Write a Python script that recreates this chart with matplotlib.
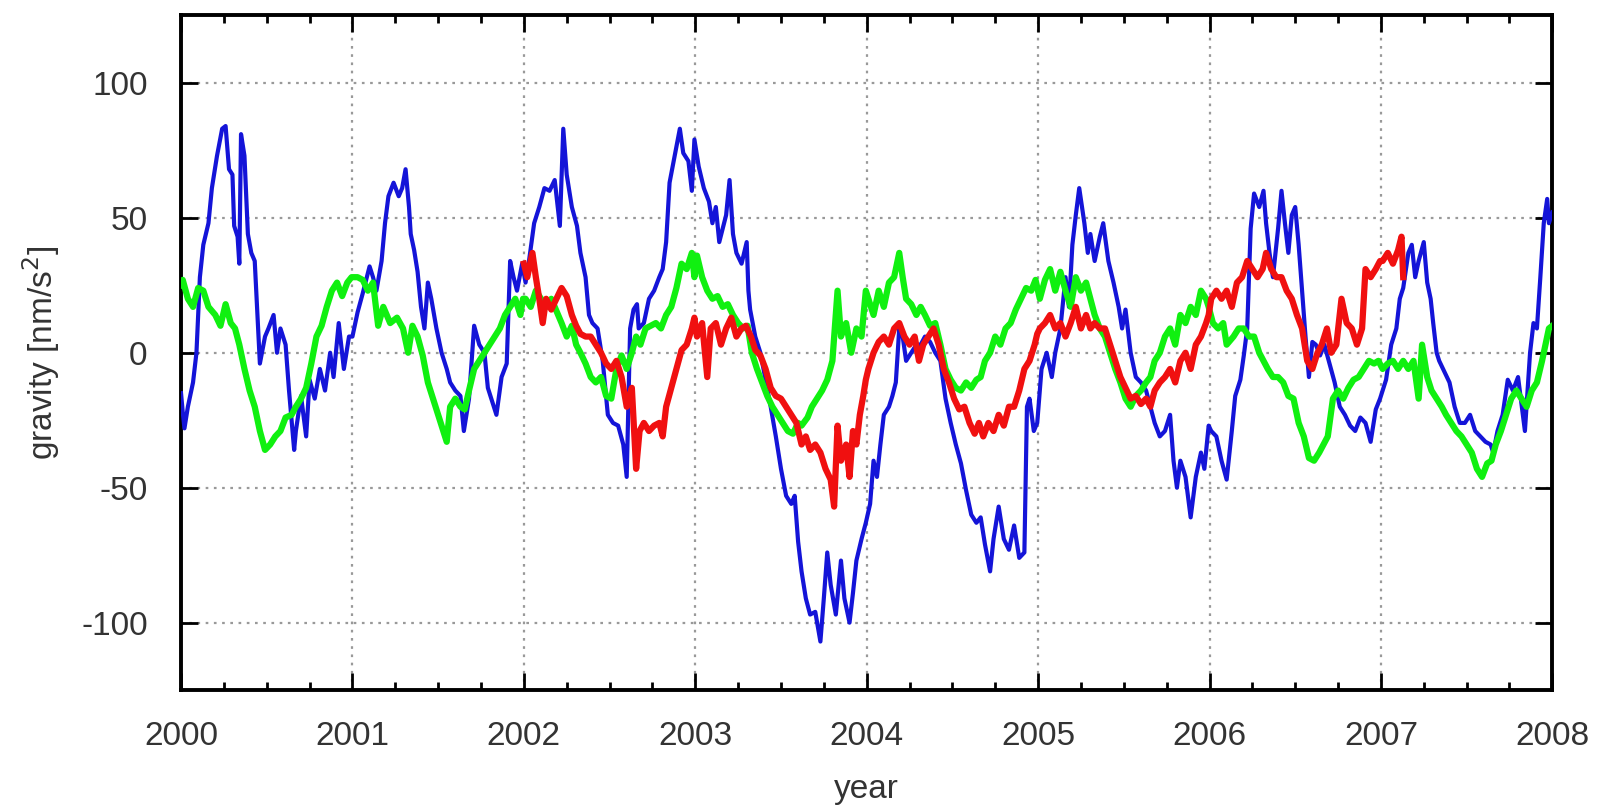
import matplotlib.pyplot as plt
from matplotlib.ticker import MultipleLocator

plt.rcParams['font.family'] = ['Liberation Sans', 'DejaVu Sans']
plt.rcParams['axes.unicode_minus'] = False

# Blue series (2000 - 2008), values in nm/s^2
blue_t = [2000.00, 2000.01, 2000.02, 2000.04, 2000.07, 2000.09, 2000.11, 2000.13, 2000.16, 2000.18,
          2000.21, 2000.24, 2000.26, 2000.28, 2000.30, 2000.31, 2000.33, 2000.34, 2000.35, 2000.37,
          2000.39, 2000.41, 2000.43, 2000.45, 2000.46, 2000.49, 2000.51, 2000.54, 2000.56, 2000.58,
          2000.61, 2000.63, 2000.66, 2000.67, 2000.70, 2000.73, 2000.75, 2000.78, 2000.81, 2000.84,
          2000.87, 2000.89, 2000.92, 2000.95, 2000.98,
          2001.00, 2001.03, 2001.06, 2001.10, 2001.12, 2001.14, 2001.17, 2001.19, 2001.21, 2001.24,
          2001.27, 2001.29, 2001.31, 2001.33, 2001.34, 2001.36, 2001.38, 2001.40, 2001.42, 2001.44,
          2001.46, 2001.49, 2001.52, 2001.55, 2001.57, 2001.60, 2001.63, 2001.65, 2001.68, 2001.71,
          2001.74, 2001.77, 2001.79, 2001.82, 2001.84, 2001.87, 2001.90, 2001.92, 2001.94, 2001.96,
          2001.99,
          2002.01, 2002.03, 2002.06, 2002.09, 2002.12, 2002.15, 2002.18, 2002.21, 2002.23, 2002.25,
          2002.28, 2002.31, 2002.33, 2002.36, 2002.38, 2002.40, 2002.43, 2002.46, 2002.49, 2002.52,
          2002.55, 2002.58, 2002.60, 2002.62, 2002.64, 2002.66, 2002.67, 2002.70, 2002.73, 2002.76,
          2002.79, 2002.81, 2002.83, 2002.85, 2002.88, 2002.91, 2002.93, 2002.96, 2002.98, 2002.995,
          2003.02, 2003.05, 2003.08, 2003.10, 2003.12, 2003.14, 2003.16, 2003.18, 2003.20, 2003.22,
          2003.24, 2003.27, 2003.30, 2003.31, 2003.32, 2003.35, 2003.38, 2003.41, 2003.44, 2003.47,
          2003.50, 2003.53, 2003.56, 2003.58, 2003.60, 2003.62, 2003.645, 2003.67, 2003.70, 2003.73,
          2003.75, 2003.77, 2003.79, 2003.82, 2003.85, 2003.87, 2003.90, 2003.92, 2003.94, 2003.97,
          2003.995,
          2004.02, 2004.04, 2004.06, 2004.08, 2004.10, 2004.13, 2004.15, 2004.17, 2004.19, 2004.21,
          2004.23, 2004.26, 2004.29, 2004.315, 2004.34, 2004.37, 2004.40, 2004.43, 2004.46, 2004.49,
          2004.52, 2004.55, 2004.58, 2004.61, 2004.64, 2004.665, 2004.69, 2004.72, 2004.74, 2004.77,
          2004.80, 2004.83, 2004.86, 2004.89, 2004.92, 2004.935, 2004.95, 2004.975, 2004.995,
          2005.02, 2005.05, 2005.08, 2005.10, 2005.13, 2005.16, 2005.18, 2005.20, 2005.22, 2005.24,
          2005.27, 2005.29, 2005.305, 2005.33, 2005.36, 2005.38, 2005.41, 2005.44, 2005.47, 2005.49,
          2005.51, 2005.54, 2005.57, 2005.60, 2005.63, 2005.655, 2005.68, 2005.71, 2005.74, 2005.77,
          2005.79, 2005.81, 2005.83, 2005.86, 2005.89, 2005.92, 2005.95, 2005.97, 2005.995,
          2006.01, 2006.04, 2006.07, 2006.10, 2006.13, 2006.15, 2006.18, 2006.20, 2006.22, 2006.24,
          2006.26, 2006.29, 2006.315, 2006.33, 2006.35, 2006.37, 2006.40, 2006.42, 2006.44, 2006.46,
          2006.48, 2006.50, 2006.52, 2006.54, 2006.56, 2006.58, 2006.60, 2006.62, 2006.645, 2006.67,
          2006.70, 2006.73, 2006.76, 2006.79, 2006.82, 2006.85, 2006.88, 2006.91, 2006.94, 2006.97,
          2006.995,
          2007.03, 2007.06, 2007.09, 2007.11, 2007.13, 2007.16, 2007.18, 2007.20, 2007.22, 2007.25,
          2007.27, 2007.29, 2007.305, 2007.325, 2007.34, 2007.37, 2007.40, 2007.43, 2007.46, 2007.49,
          2007.52, 2007.55, 2007.58, 2007.61, 2007.64, 2007.655, 2007.68, 2007.71, 2007.74, 2007.77,
          2007.80, 2007.84, 2007.87, 2007.89, 2007.91, 2007.93, 2007.95, 2007.97, 2007.98, 2008.00]
blue_v = [-15, -22, -28, -20, -11, 0, 28, 40, 48, 61,
          73, 83, 84, 68, 66, 47, 43, 33, 81, 73,
          44, 37, 34, 9, -4, 6, 9, 14, 0, 9,
          3, -14, -36, -29, -16, -31, -10, -17, -6, -14,
          0, -9, 11, -6, 6,
          6, 15, 22, 32, 28, 23, 34, 48, 58, 63,
          58, 61, 68, 54, 44, 38, 30, 17, 9, 26,
          20, 9, 0, -6, -11, -14, -16, -29, -17, 10,
          3, 0, -13, -19, -23, -9, -4, 34, 28, 23,
          33,
          26, 34, 48, 54, 61, 60, 64, 47, 83, 66,
          54, 47, 37, 28, 14, 11, 9, -3, -23, -26,
          -27, -34, -46, 9, 16, 18, 9, 11, 20, 23,
          28, 31, 41, 63, 73, 83, 74, 71, 60, 79,
          69, 61, 56, 48, 54, 41, 46, 51, 64, 44,
          37, 33, 41, 23, 16, 6, 0, -10, -20, -31,
          -43, -53, -56, -53, -70, -81, -91, -97, -96, -107,
          -91, -74, -86, -97, -77, -91, -100, -89, -77, -69,
          -63,
          -56, -40, -46, -34, -23, -20, -16, -11, 9, 6,
          -3, 0, 3, 3, 6, 4, 0, -3, -17, -26,
          -34, -41, -51, -60, -63, -61, -71, -81, -69, -57,
          -69, -73, -64, -76, -74, -20, -17, -29, -26,
          -6, 0, -9, 0, 9, 28, 17, 40, 51, 61,
          48, 37, 44, 34, 43, 48, 34, 26, 17, 9,
          16, 0, -9, -11, -14, -20, -26, -31, -29, -23,
          -40, -50, -40, -46, -61, -46, -37, -43, -27,
          -29, -31, -40, -47, -29, -16, -10, -1, 9, 46,
          59, 54, 60, 48, 37, 28, 46, 60, 48, 37,
          51, 54, 40, 23, 6, -9, 4, 3, -1, 3,
          -4, -11, -20, -23, -27, -29, -24, -26, -33, -21,
          -17,
          -10, 3, 9, 20, 24, 37, 40, 28, 34, 41,
          26, 20, 11, 0, -3, -7, -11, -20, -26, -26,
          -23, -29, -31, -33, -34, -37, -29, -23, -10, -14,
          -9, -29, 0, 11, 9, 28, 48, 57, 48, 52]

# Green series (2000 - 2008)
green_t = [2000.00, 2000.01, 2000.04, 2000.07, 2000.10, 2000.13, 2000.16, 2000.20, 2000.23, 2000.26,
           2000.29, 2000.315, 2000.34, 2000.37, 2000.40, 2000.43, 2000.46, 2000.49, 2000.52, 2000.55,
           2000.58, 2000.61, 2000.645, 2000.67, 2000.70, 2000.73, 2000.76, 2000.79, 2000.82, 2000.85,
           2000.88, 2000.91, 2000.94, 2000.97, 2000.995,
           2001.03, 2001.06, 2001.09, 2001.12, 2001.15, 2001.18, 2001.22, 2001.26, 2001.295, 2001.325,
           2001.35, 2001.38, 2001.41, 2001.44, 2001.47, 2001.50, 2001.53, 2001.55, 2001.57, 2001.60,
           2001.63, 2001.655, 2001.68, 2001.71, 2001.74, 2001.77, 2001.80, 2001.83, 2001.86, 2001.89,
           2001.92, 2001.95, 2001.98, 2001.995,
           2002.01, 2002.04, 2002.07, 2002.10, 2002.13, 2002.16, 2002.22, 2002.25, 2002.28, 2002.305,
           2002.33, 2002.36, 2002.39, 2002.42, 2002.45, 2002.48, 2002.51, 2002.54, 2002.57, 2002.60,
           2002.63, 2002.655, 2002.68, 2002.71, 2002.74, 2002.77, 2002.80, 2002.83, 2002.86, 2002.89,
           2002.92, 2002.95, 2002.98, 2002.995,
           2003.01, 2003.04, 2003.07, 2003.10, 2003.13, 2003.16, 2003.19, 2003.22, 2003.25, 2003.28,
           2003.305, 2003.33, 2003.36, 2003.39, 2003.42, 2003.45, 2003.48, 2003.51, 2003.54, 2003.57,
           2003.60, 2003.62, 2003.655, 2003.68, 2003.71, 2003.74, 2003.77, 2003.80, 2003.83, 2003.85,
           2003.88, 2003.91, 2003.94, 2003.97, 2003.995,
           2004.01, 2004.04, 2004.07, 2004.10, 2004.13, 2004.16, 2004.19, 2004.21, 2004.23, 2004.26,
           2004.29, 2004.315, 2004.34, 2004.37, 2004.40, 2004.43, 2004.46, 2004.49, 2004.52, 2004.55,
           2004.58, 2004.61, 2004.64, 2004.665, 2004.69, 2004.72, 2004.75, 2004.78, 2004.81, 2004.84,
           2004.87, 2004.90, 2004.93, 2004.96, 2004.985,
           2005.01, 2005.04, 2005.07, 2005.10, 2005.13, 2005.16, 2005.19, 2005.22, 2005.25, 2005.28,
           2005.305, 2005.33, 2005.36, 2005.39, 2005.42, 2005.45, 2005.48, 2005.51, 2005.54, 2005.57,
           2005.60, 2005.63, 2005.655, 2005.68, 2005.71, 2005.74, 2005.77, 2005.80, 2005.83, 2005.86,
           2005.89, 2005.92, 2005.95, 2005.98, 2005.995,
           2006.02, 2006.05, 2006.08, 2006.10, 2006.14, 2006.17, 2006.20, 2006.23, 2006.26, 2006.29,
           2006.315, 2006.34, 2006.37, 2006.40, 2006.43, 2006.46, 2006.49, 2006.52, 2006.55, 2006.58,
           2006.61, 2006.64, 2006.665, 2006.69, 2006.72, 2006.75, 2006.78, 2006.81, 2006.84, 2006.87,
           2006.90, 2006.93, 2006.96, 2006.985,
           2007.01, 2007.04, 2007.07, 2007.10, 2007.13, 2007.16, 2007.19, 2007.22, 2007.24, 2007.27,
           2007.295, 2007.325, 2007.355, 2007.38, 2007.41, 2007.44, 2007.47, 2007.50, 2007.53, 2007.56,
           2007.59, 2007.62, 2007.645, 2007.67, 2007.70, 2007.73, 2007.76, 2007.79, 2007.82, 2007.85,
           2007.88, 2007.91, 2007.94, 2007.96, 2007.98, 2008.00]
green_v = [25, 27, 20, 17, 24, 23, 17, 14, 10, 18,
           11, 9, 3, -6, -14, -20, -29, -36, -34, -31,
           -29, -24, -23, -20, -17, -13, -4, 6, 10, 17,
           23, 26, 21, 26, 28,
           28, 27, 23, 26, 10, 17, 11, 13, 9, 0,
           10, 6, -1, -11, -17, -23, -29, -33, -20, -17,
           -20, -21, -14, -6, -3, 0, 3, 6, 9, 14,
           17, 20, 14, 20,
           20, 17, 23, 20, 17, 20, 11, 6, 10, 3,
           0, -4, -9, -11, -9, -16, -17, -6, -1, -6,
           0, 6, 3, 9, 10, 11, 9, 14, 17, 24,
           33, 31, 37, 28,
           36, 28, 23, 20, 21, 17, 18, 14, 11, 9,
           10, 0, -6, -11, -16, -20, -23, -26, -29, -30,
           -26, -27, -24, -20, -17, -14, -10, -3, 23, 6,
           11, 0, 9, 6, 23,
           20, 14, 23, 17, 26, 28, 37, 28, 20, 18,
           14, 17, 14, 10, 11, 3, -6, -10, -13, -14,
           -11, -13, -10, -9, -3, 0, 6, 3, 9, 11,
           16, 20, 24, 23, 27,
           20, 27, 31, 23, 30, 23, 17, 28, 23, 26,
           20, 14, 9, 6, 0, -6, -11, -17, -20, -16,
           -14, -11, -9, -3, 0, 6, 9, 3, 14, 11,
           17, 14, 23, 20, 17,
           11, 9, 11, 3, 6, 9, 9, 6, 6, 0,
           -3, -6, -9, -9, -11, -16, -17, -26, -31, -39,
           -40, -37, -34, -31, -17, -14, -17, -13, -10, -9,
           -6, -3, -4, -3,
           -6, -4, -3, -6, -3, -6, -3, -17, 3, -9,
           -14, -17, -20, -23, -26, -29, -31, -34, -37, -43,
           -46, -41, -40, -34, -29, -23, -17, -14, -17, -20,
           -14, -11, -3, 3, 9, 10]

# Red series (2002 - 2007.1)
red_t = [2002.00, 2002.02, 2002.05, 2002.07, 2002.09, 2002.11, 2002.13, 2002.16, 2002.19, 2002.22,
         2002.25, 2002.28, 2002.305, 2002.33, 2002.36, 2002.39, 2002.42, 2002.45, 2002.48, 2002.51,
         2002.54, 2002.57, 2002.60, 2002.63, 2002.655, 2002.675, 2002.70, 2002.73, 2002.76, 2002.79,
         2002.81, 2002.83, 2002.86, 2002.89, 2002.92, 2002.95, 2002.98, 2002.995,
         2003.01, 2003.04, 2003.07, 2003.09, 2003.12, 2003.15, 2003.18, 2003.21, 2003.24, 2003.27,
         2003.295, 2003.325, 2003.35, 2003.38, 2003.41, 2003.44, 2003.47, 2003.50, 2003.53, 2003.56,
         2003.59, 2003.62, 2003.645, 2003.67, 2003.70, 2003.73, 2003.76, 2003.79, 2003.81, 2003.83,
         2003.85, 2003.88, 2003.90, 2003.92, 2003.94, 2003.96, 2003.98, 2003.995,
         2004.01, 2004.04, 2004.07, 2004.10, 2004.13, 2004.16, 2004.19, 2004.22, 2004.25, 2004.28,
         2004.305, 2004.33, 2004.36, 2004.39, 2004.42, 2004.45, 2004.48, 2004.51, 2004.54, 2004.57,
         2004.60, 2004.63, 2004.655, 2004.68, 2004.71, 2004.74, 2004.77, 2004.80, 2004.83, 2004.86,
         2004.89, 2004.92, 2004.95, 2004.98, 2004.995,
         2005.01, 2005.04, 2005.07, 2005.10, 2005.13, 2005.16, 2005.19, 2005.22, 2005.25, 2005.28,
         2005.305, 2005.33, 2005.36, 2005.39, 2005.42, 2005.45, 2005.48, 2005.51, 2005.54, 2005.57,
         2005.60, 2005.63, 2005.655, 2005.68, 2005.71, 2005.74, 2005.77, 2005.80, 2005.83, 2005.86,
         2005.89, 2005.92, 2005.95, 2005.98, 2005.995,
         2006.01, 2006.04, 2006.07, 2006.10, 2006.13, 2006.16, 2006.19, 2006.22, 2006.25, 2006.28,
         2006.31, 2006.33, 2006.36, 2006.39, 2006.42, 2006.45, 2006.48, 2006.51, 2006.54, 2006.57,
         2006.60, 2006.63, 2006.655, 2006.685, 2006.71, 2006.74, 2006.77, 2006.80, 2006.83, 2006.86,
         2006.89, 2006.91, 2006.94, 2006.97, 2006.995,
         2007.01, 2007.04, 2007.07, 2007.10, 2007.12, 2007.13]
red_v = [33, 28, 37, 28, 20, 11, 20, 16, 20, 24,
         21, 14, 10, 7, 6, 6, 3, 0, -4, -6,
         -3, -9, -20, -13, -43, -29, -26, -29, -27, -26,
         -31, -20, -13, -6, 1, 3, 9, 13,
         6, 11, -9, 9, 11, 3, 9, 13, 6, 9,
         10, 6, 1, -1, -6, -13, -16, -17, -20, -23,
         -26, -34, -31, -36, -34, -37, -43, -47, -57, -27,
         -40, -34, -46, -29, -34, -23, -16, -10,
         -6, 0, 4, 6, 3, 9, 11, 6, 3, 6,
         -3, 3, 6, 9, 3, -6, -11, -17, -21, -20,
         -26, -30, -26, -31, -26, -29, -23, -27, -20, -20,
         -14, -6, -3, 3, 7,
         9, 11, 14, 9, 11, 6, 11, 17, 9, 14,
         9, 11, 9, 9, 3, -3, -9, -13, -17, -16,
         -19, -17, -20, -14, -11, -9, -6, -11, -3, 0,
         -6, 3, 6, 11, 14,
         20, 23, 20, 23, 17, 26, 28, 34, 31, 28,
         31, 37, 31, 28, 28, 23, 20, 14, 9, -3,
         -6, 0, 3, 9, 0, 3, 20, 11, 9, 3,
         9, 31, 28, 31, 34,
         34, 37, 33, 38, 43, 28]

year_ticks = list(range(2000, 2009))
gravity_ticks = [-100, -50, 0, 50, 100]

fig, ax = plt.subplots(figsize=(16.02, 8.10), dpi=100)
fig.subplots_adjust(left=0.113, right=0.969, top=0.981, bottom=0.148)

ax.plot(blue_t, blue_v, color='#1414d8', lw=3, zorder=3)
ax.plot(green_t, green_v, color='#10f010', lw=4.5, zorder=4)
ax.plot(red_t, red_v, color='#f01010', lw=4.5, zorder=5)

ax.set_xlim(2000, 2008)
ax.set_ylim(-125, 125)
ax.set_xticks(year_ticks)
ax.set_yticks(gravity_ticks)
ax.xaxis.set_minor_locator(MultipleLocator(0.25))

ax.grid(True, which='major', color='#999999', linestyle=(0, (1.2, 2.5)), linewidth=1.6)
ax.tick_params(which='both', direction='in', top=True, right=True, width=2, colors='black',
               labelcolor='#333333', labelsize=24)
ax.tick_params(which='major', length=12)
ax.tick_params(which='minor', length=6)
ax.tick_params(axis='x', pad=22)
ax.tick_params(axis='y', pad=24)
for s in ax.spines.values():
    s.set_linewidth(2.8)

ax.set_xlabel('year', fontsize=24, color='#333333', labelpad=16)
ax.set_ylabel('gravity [nm/s$^2$]', fontsize=24, color='#333333', labelpad=14)

plt.savefig('out.png', dpi=100)
